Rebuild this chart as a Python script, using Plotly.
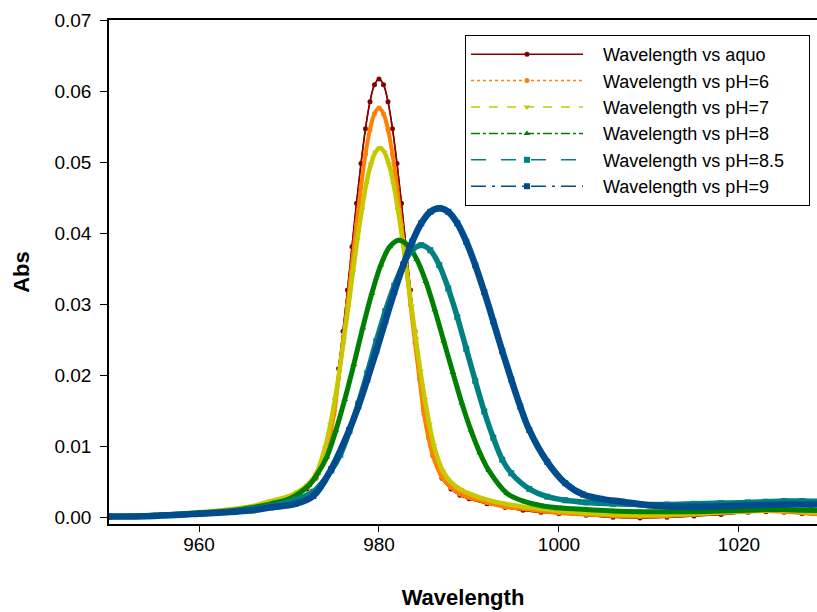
import plotly.graph_objects as go

# ---- data ----
wl_aquo = [950, 955, 960, 964, 966, 968, 970, 971, 972, 973, 974, 974.5, 975, 975.5, 976, 976.5, 977,
           977.5, 978, 978.5, 979, 979.5, 980, 980.5, 981, 981.5, 982, 982.5, 983, 983.5, 984, 984.5,
           985, 985.5, 986, 987, 988, 989, 990, 992, 994, 996, 998, 1000, 1003, 1006, 1009, 1012,
           1015, 1018, 1021, 1023, 1025, 1027, 1030]
abs_aquo = [0.0001, 0.0003, 0.0006, 0.0010, 0.0013, 0.0019, 0.0026, 0.0031, 0.0040, 0.0055,
            0.0087, 0.0115, 0.0150, 0.0209, 0.0262, 0.0320, 0.0381, 0.0442, 0.0498, 0.0547,
            0.0585, 0.0609, 0.0617, 0.0609, 0.0585, 0.0547, 0.0498, 0.0442, 0.0381, 0.0320,
            0.0262, 0.0209, 0.0150, 0.0115, 0.0087, 0.0055, 0.0040, 0.0031, 0.0026, 0.0019,
            0.0014, 0.0010, 0.0007, 0.0005, 0.0003, 0.0000, -0.0001, 0.0000, 0.0002, 0.0004,
            0.0007, 0.0008, 0.0007, 0.0005, 0.0002]

wl_ph6 = wl_aquo
abs_ph6 = [0.0001, 0.0003, 0.0007, 0.0011, 0.0014, 0.0021, 0.0028, 0.0033, 0.0042, 0.0056,
           0.0086, 0.0112, 0.0145, 0.0195, 0.0245, 0.0299, 0.0356, 0.0412, 0.0465, 0.0511,
           0.0546, 0.0568, 0.0576, 0.0568, 0.0546, 0.0511, 0.0465, 0.0412, 0.0356, 0.0299,
           0.0245, 0.0195, 0.0145, 0.0112, 0.0086, 0.0056, 0.0042, 0.0033, 0.0028, 0.0021,
           0.0015, 0.0012, 0.0009, 0.0006, 0.0004, 0.0002, 0.0001, 0.0002, 0.0004, 0.0006,
           0.0008, 0.0009, 0.0008, 0.0006, 0.0003]

wl_ph7 = [950, 955, 960, 964, 966, 968, 970, 971, 972, 973, 974, 974.6, 975.1, 975.6, 976.1, 976.6,
          977.1, 977.6, 978.1, 978.6, 979.1, 979.6, 980.1, 980.6, 981.1, 981.6, 982.1, 982.6, 983.1,
          983.6, 984.1, 984.6, 985.1, 985.6, 986.1, 987.1, 988.1, 989.1, 990.1, 992, 994, 996, 998,
          1000, 1003, 1006, 1009, 1012, 1015, 1018, 1021, 1023, 1025, 1027, 1030]
abs_ph7 = [0.0001, 0.0003, 0.0007, 0.0012, 0.0016, 0.0023, 0.0030, 0.0036, 0.0045, 0.0061,
           0.0098, 0.0131, 0.0166, 0.0206, 0.0251, 0.0297, 0.0345, 0.0391, 0.0433, 0.0470,
           0.0497, 0.0514, 0.0520, 0.0514, 0.0497, 0.0470, 0.0433, 0.0391, 0.0345, 0.0297,
           0.0251, 0.0206, 0.0166, 0.0131, 0.0101, 0.0065, 0.0048, 0.0039, 0.0033, 0.0025,
           0.0019, 0.0015, 0.0012, 0.0009, 0.0006, 0.0004, 0.0003, 0.0004, 0.0005, 0.0007,
           0.0009, 0.0010, 0.0010, 0.0008, 0.0006]

wl_ph8 = [950, 955, 960, 964, 966, 968, 970.2, 972.2, 973.2, 974.2, 975.2, 976.2, 977.2, 978.2, 979.2,
          980.2, 981.2, 982.2, 983.2, 984.2, 985.2, 986.2, 987.2, 988.2, 989.2, 990.2, 991.2, 992.2,
          994.2, 996.2, 998.2, 1000.2, 1003, 1006, 1009, 1012, 1015, 1018, 1021, 1023, 1025, 1027, 1030]
abs_ph8 = [0.0001, 0.0003, 0.0006, 0.0010, 0.0014, 0.0019, 0.0027, 0.0045, 0.0062, 0.0085,
           0.0122, 0.0166, 0.0215, 0.0267, 0.0315, 0.0355, 0.0381, 0.0390, 0.0383, 0.0363,
           0.0332, 0.0292, 0.0248, 0.0204, 0.0161, 0.0123, 0.0091, 0.0066, 0.0034, 0.0022,
           0.0016, 0.0013, 0.0011, 0.0009, 0.0008, 0.0008, 0.0008, 0.0009, 0.0010, 0.0011,
           0.0011, 0.0010, 0.0009]

wl_ph85 = [950, 955, 960, 964, 966, 968, 970.7, 972.7, 974.7, 975.7, 976.7, 977.7, 978.7, 979.7, 980.7,
           981.7, 982.7, 983.7, 984.7, 985.7, 986.7, 987.7, 988.7, 989.7, 990.7, 991.7, 992.7, 993.7,
           994.7, 996.7, 998.7, 1000.7, 1003, 1006, 1009, 1012, 1015, 1018, 1021, 1023, 1025, 1027, 1030]
abs_ph85 = [0.0001, 0.0002, 0.0005, 0.0009, 0.0012, 0.0016, 0.0025, 0.0036, 0.0066, 0.0088,
            0.0121, 0.0160, 0.0203, 0.0248, 0.0290, 0.0326, 0.0356, 0.0376, 0.0383, 0.0376,
            0.0355, 0.0322, 0.0282, 0.0237, 0.0192, 0.0149, 0.0112, 0.0081, 0.0062, 0.0040,
            0.0029, 0.0024, 0.0021, 0.0019, 0.0018, 0.0018, 0.0019, 0.0020, 0.0021, 0.0022,
            0.0023, 0.0023, 0.0022]

wl_ph9 = [950, 955, 960, 964, 966, 968, 970.7, 972.7, 974.7, 976.7, 977.7, 978.7, 979.7, 980.7, 981.7,
          982.7, 983.7, 984.7, 985.7, 986.7, 987.7, 988.7, 989.7, 990.7, 991.7, 992.7, 993.7, 994.7,
          995.7, 996.7, 998.7, 1000.7, 1002.7, 1004.7, 1007, 1010, 1013, 1016, 1019, 1022, 1025, 1028, 1030]
abs_ph9 = [0.0001, 0.0002, 0.0005, 0.0008, 0.0010, 0.0014, 0.0019, 0.0030, 0.0068, 0.0123,
           0.0156, 0.0194, 0.0234, 0.0276, 0.0317, 0.0355, 0.0388, 0.0414, 0.0430, 0.0435,
           0.0430, 0.0414, 0.0388, 0.0355, 0.0317, 0.0276, 0.0234, 0.0194, 0.0156, 0.0123,
           0.0078, 0.0048, 0.0032, 0.0026, 0.0022, 0.0017, 0.0015, 0.0015, 0.0016, 0.0017,
           0.0018, 0.0018, 0.0018]

series_names = ["Wavelength vs aquo", "Wavelength vs pH=6", "Wavelength vs pH=7",
                "Wavelength vs pH=8", "Wavelength vs pH=8.5", "Wavelength vs pH=9"]
series_x = [wl_aquo, wl_ph6, wl_ph7, wl_ph8, wl_ph85, wl_ph9]
series_y = [abs_aquo, abs_ph6, abs_ph7, abs_ph8, abs_ph85, abs_ph9]

x_ticks = [960, 980, 1000, 1020]
y_ticks = [0.00, 0.01, 0.02, 0.03, 0.04, 0.05, 0.06, 0.07]

# ---- styles ----
colors = ["#800000", "#FF8000", "#C8C800", "#008000", "#008080", "#004C8C"]
dashes = ["solid", "dot", "dash", "dashdot", "longdash", "longdashdot"]
symbols = ["circle", "circle", "triangle-down", "triangle-up", "square", "square"]
band_widths = [1.5, 4, 4.5, 5, 5.5, 6.5]
marker_sizes = [5, 5, 6, 6, 6, 6]

NB = "\u00a0"
fig = go.Figure()
for i, name in enumerate(series_names):
    fig.add_trace(go.Scatter(x=series_x[i], y=series_y[i], mode="lines", showlegend=False,
                             hoverinfo="skip",
                             line=dict(color=colors[i], width=band_widths[i], shape="spline")))
    label = NB * 3 + name + (NB * 4 if i == 4 else "")
    fig.add_trace(go.Scatter(x=series_x[i], y=series_y[i], mode="lines+markers", name=label,
                             line=dict(color=colors[i], width=1.5, dash=dashes[i], shape="spline"),
                             marker=dict(color=colors[i], symbol=symbols[i], size=marker_sizes[i])))

font_family = "Arial, Liberation Sans, sans-serif"
fig.update_layout(
    width=817, height=612,
    margin=dict(l=109, r=0, t=20, b=88, autoexpand=False),
    paper_bgcolor="white", plot_bgcolor="white",
    font=dict(family=font_family, size=19, color="black"),
    legend=dict(x=0.5028, y=0.9702, xanchor="left", yanchor="top", bgcolor="white",
                bordercolor="black", borderwidth=1, itemwidth=112,
                font=dict(size=18, family=font_family, color="black"), tracegroupgap=0),
    xaxis=dict(range=[950, 1028.67], tickvals=x_ticks, ticks="outside", ticklen=6,
               tickcolor="black", showline=True, linecolor="black", linewidth=1.5, mirror=True,
               showgrid=False, zeroline=False, ticklabelstandoff=-4,
               title=dict(text="<b>Wavelength</b>", font=dict(size=22), standoff=36)),
    yaxis=dict(range=[-0.00094, 0.07], tickvals=y_ticks, tickformat=".2f", ticks="outside",
               ticklen=7, tickcolor="black", showline=True, linecolor="black", linewidth=1.5,
               showgrid=False, zeroline=False, ticklabelstandoff=5,
               title=dict(text="<b>Abs</b>", font=dict(size=22), standoff=19)),
)

fig.write_html("out.html")
